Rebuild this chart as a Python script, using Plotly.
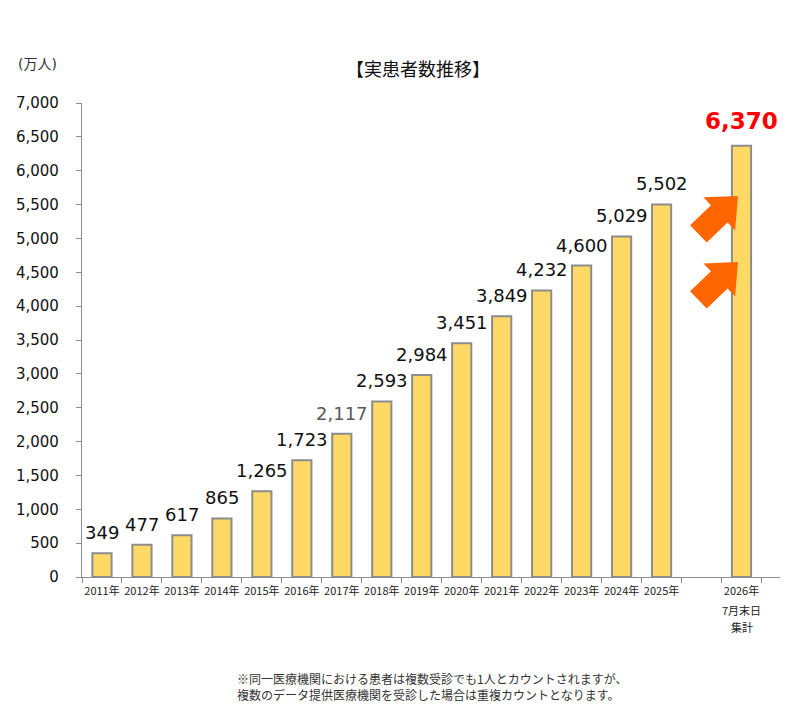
import plotly.graph_objects as go

# data (unit: 万人)
years = ["2011年", "2012年", "2013年", "2014年", "2015年", "2016年", "2017年",
         "2018年", "2019年", "2020年", "2021年", "2022年", "2023年", "2024年",
         "2025年", " ", "2026年"]
last_note = ["7月末日", "集計"]   # extra lines under the last category label
patients = [349, 477, 617, 865, 1265, 1723, 2117, 2593, 2984, 3451, 3849,
            4232, 4600, 5029, 5502, None, 6370]

FONT = "DejaVu Sans, Noto Sans CJK JP, sans-serif"
CJK = "Noto Sans CJK JP, sans-serif"

# page layout (the html body adds an 8px margin around the figure)
OFF = 8
W, H = 801 - 2 * OFF, 722 - 2 * OFF
PX0, PX1, PY0, PY1 = 82, 780, 103, 577   # plot area on the page
L, T = PX0 - OFF, PY0 - OFF
R, B = OFF + W - PX1, OFF + H - PY1


def px_to_paper(px, py):
    return (px - PX0) / (PX1 - PX0), (PY1 - py) / (PY1 - PY0)


def block_arrow(tip_x, tip_y):
    # fat arrow pointing up-right, built in page pixels
    d = (0.72, -0.69)   # direction (screen)
    n = (0.69, 0.72)    # perpendicular
    head_len, head_w, shaft_w, total = 26, 23, 12, 55
    pts = []
    for along, side in [(0, 0), (head_len, head_w), (head_len, shaft_w),
                        (total, shaft_w), (total, -shaft_w),
                        (head_len, -shaft_w), (head_len, -head_w)]:
        x = tip_x - d[0] * along + n[0] * side
        y = tip_y - d[1] * along + n[1] * side
        pts.append(px_to_paper(x, y))
    return "M " + " L ".join(f"{x:.4f},{y:.4f}" for x, y in pts) + " Z"


fig = go.Figure()
fig.add_trace(go.Bar(
    x=years, y=patients, width=0.48,
    marker=dict(color="#FFD966", line=dict(color="#8C8C8C", width=2)),
    hoverinfo="x+y",
))

annotations = []
for cat, v in zip(years, patients):
    if v is None:
        continue
    if v == patients[-1]:
        annotations.append(dict(x=cat, y=v, text=f"<b>{v:,}</b>", showarrow=False,
                                yanchor="bottom", yshift=10,
                                font=dict(size=23, color="#FF0000", family=FONT)))
    else:
        col = "#595959" if v == 2117 else "#111111"
        annotations.append(dict(x=cat, y=v, text=f"{v:,}", showarrow=False,
                                yanchor="bottom", yshift=8,
                                font=dict(size=18, color=col, family=FONT)))

for i, line in enumerate(last_note):
    annotations.append(dict(x=years[-1], y=0, text=line, showarrow=False,
                            yanchor="middle", yshift=-(33 + 17 * i),
                            font=dict(size=11, color="#222222", family=CJK)))

tx, ty = px_to_paper(418, 68)
annotations.append(dict(x=tx, y=ty, xref="paper", yref="paper", text="【実患者数推移】",
                        xanchor="center", yanchor="middle", showarrow=False,
                        font=dict(size=18, color="#111111", family=CJK)))
ux, uy = px_to_paper(37, 64)
annotations.append(dict(x=ux, y=uy, xref="paper", yref="paper", text="(万人)",
                        xanchor="center", yanchor="middle", showarrow=False,
                        font=dict(size=14, color="#333333", family=FONT)))
fx, fy = px_to_paper(235, 686)
annotations.append(dict(x=fx, y=fy, xref="paper", yref="paper", xanchor="left",
                        yanchor="middle", align="left",
                        text="※同一医療機関における患者は複数受診でも1人とカウントされますが、<br>"
                             "複数のデータ提供医療機関を受診した場合は重複カウントとなります。",
                        showarrow=False, font=dict(size=12, color="#333333", family=CJK)))

shapes = [dict(type="path", xref="paper", yref="paper", path=block_arrow(738, 196),
               fillcolor="#FF6600", line=dict(width=0)),
          dict(type="path", xref="paper", yref="paper", path=block_arrow(738, 262),
               fillcolor="#FF6600", line=dict(width=0))]

fig.update_layout(
    width=W, height=H,
    margin=dict(l=L, r=R, t=T, b=B, autoexpand=False),
    paper_bgcolor="white", plot_bgcolor="white",
    font=dict(family=FONT, color="#222222"),
    showlegend=False,
    annotations=annotations,
    shapes=shapes,
    xaxis=dict(type="category", categoryorder="array", categoryarray=years,
               showline=True, linecolor="#8C8C8C", linewidth=1.3,
               ticks="outside", tickson="boundaries", ticklen=5, tickcolor="#8C8C8C",
               tickfont=dict(size=11, color="#222222", family=CJK), showgrid=False,
               tickangle=0, ticklabelstandoff=4),
    yaxis=dict(range=[0, 7000], dtick=500, tickformat=",",
               showline=True, linecolor="#8C8C8C", linewidth=1.3,
               ticks="outside", ticklen=5, tickcolor="#8C8C8C",
               tickfont=dict(size=15, color="#111111"), showgrid=False, zeroline=False,
               ticklabelstandoff=14),
)

fig.write_html("out.html")
